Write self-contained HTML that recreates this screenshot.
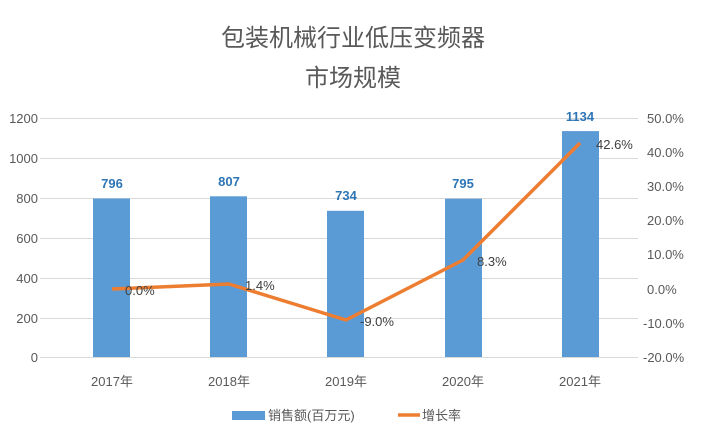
<!DOCTYPE html>
<html><head><meta charset="utf-8"><style>
body{margin:0;background:#fff;}
svg text{font-family:"Liberation Sans","Noto Sans CJK SC",sans-serif;}
</style></head><body>
<svg width="707" height="441" viewBox="0 0 707 441" xmlns="http://www.w3.org/2000/svg">
<rect width="707" height="441" fill="#fff"/>
<text x="353" y="46" font-size="24" fill="#595959" text-anchor="middle">包装机械行业低压变频器</text>
<text x="353" y="86" font-size="24" fill="#595959" text-anchor="middle">市场规模</text>
<g stroke="#d9d9d9" stroke-width="1">
<line x1="40" y1="118.5" x2="638" y2="118.5"/>
<line x1="40" y1="158.5" x2="638" y2="158.5"/>
<line x1="40" y1="198.5" x2="638" y2="198.5"/>
<line x1="40" y1="238.5" x2="638" y2="238.5"/>
<line x1="40" y1="278.5" x2="638" y2="278.5"/>
<line x1="40" y1="318.5" x2="638" y2="318.5"/>
<line x1="40" y1="357.5" x2="638" y2="357.5"/>
</g>
<g font-size="13" fill="#595959" text-anchor="end">
<text x="38" y="123">1200</text><text x="38" y="163">1000</text><text x="38" y="203">800</text>
<text x="38" y="243">600</text><text x="38" y="283">400</text><text x="38" y="323">200</text><text x="38" y="362">0</text>
</g>
<g font-size="13" fill="#595959" text-anchor="start">
<text x="647" y="123">50.0%</text><text x="647" y="157">40.0%</text><text x="647" y="191">30.0%</text>
<text x="647" y="225">20.0%</text><text x="647" y="259">10.0%</text><text x="647" y="294">0.0%</text>
<text x="643" y="328">-10.0%</text><text x="643" y="362">-20.0%</text>
</g>
<g fill="#5b9bd5">
<rect x="93" y="198.5" width="37" height="158.5"/>
<rect x="210" y="196.3" width="37" height="160.7"/>
<rect x="327" y="210.8" width="37" height="146.2"/>
<rect x="445" y="198.7" width="37" height="158.3"/>
<rect x="562" y="131.1" width="37" height="225.9"/>
</g>
<g font-size="13" fill="#2e75b6" font-weight="bold" text-anchor="middle">
<text x="112" y="188">796</text><text x="229" y="186">807</text><text x="346" y="200">734</text>
<text x="463" y="188">795</text><text x="580" y="121">1134</text>
</g>
<polyline points="112,289 229,284 346,320 463,260 580,143" fill="none" stroke="#ed7d31" stroke-width="3.5" stroke-linejoin="round"/>
<g font-size="13" fill="#404040">
<text x="125" y="295">0.0%</text><text x="245" y="290">1.4%</text><text x="360" y="326">-9.0%</text>
<text x="477" y="266">8.3%</text><text x="596" y="149">42.6%</text>
</g>
<g font-size="13" fill="#595959" text-anchor="middle">
<text x="112" y="386">2017年</text><text x="229" y="386">2018年</text><text x="346" y="386">2019年</text>
<text x="463" y="386">2020年</text><text x="580" y="386">2021年</text>
</g>
<rect x="232" y="411" width="33" height="9" fill="#5b9bd5"/>
<text x="268" y="420" font-size="13" fill="#595959">销售额(百万元)</text>
<line x1="398" y1="415" x2="420" y2="415" stroke="#ed7d31" stroke-width="3.5"/>
<text x="422" y="420" font-size="13" fill="#595959">增长率</text>
</svg>
</body></html>
